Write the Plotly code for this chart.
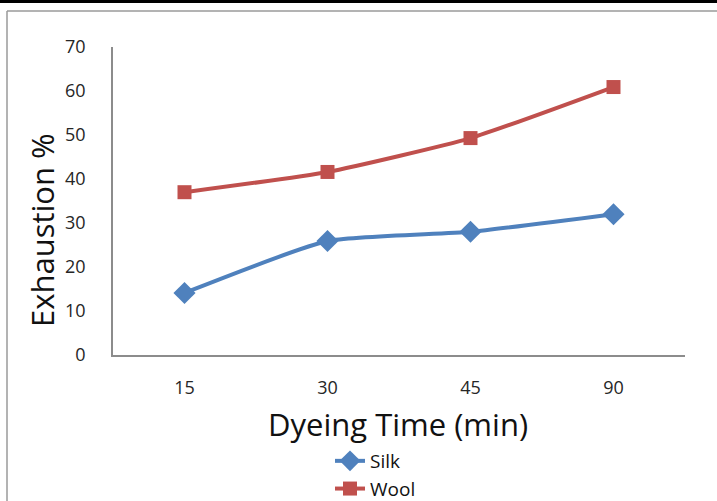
import plotly.graph_objects as go

categories = ["15", "30", "45", "90"]
silk = [14.1, 25.9, 28.0, 32.0]
wool = [37.0, 41.6, 49.3, 60.9]
y_ticks = [0, 10, 20, 30, 40, 50, 60, 70]

W, H = 717, 501
ML, MR, MT, MB = 113, 32, 47, 0
PW, PH = W - ML - MR, H - MT - MB
AXIS_BOTTOM = 355

def px2x(px):
    return (px - ML) / PW

def py2y(py):
    return (H - MB - py) / PH

FONT = "Open Sans"

fig = go.Figure()
fig.add_trace(go.Scatter(
    x=categories, y=silk, name="Silk", mode="lines+markers",
    line=dict(color="#4F81BD", width=4, shape="spline", smoothing=0.5),
    marker=dict(symbol="diamond", size=17, color="#4F81BD"),
))
fig.add_trace(go.Scatter(
    x=categories, y=wool, name="Wool", mode="lines+markers",
    line=dict(color="#C0504D", width=4, shape="spline", smoothing=0.5),
    marker=dict(symbol="square", size=14, color="#C0504D"),
))

fig.update_layout(
    width=W, height=H,
    margin=dict(l=ML, r=MR, t=MT, b=MB, autoexpand=False),
    paper_bgcolor="white", plot_bgcolor="white",
    font=dict(family=FONT, color="#262626"),
    showlegend=True,
    legend=dict(
        x=px2x(330), y=py2y(442), xanchor="left", yanchor="top",
        orientation="v", font=dict(size=19, family=FONT, color="#111"),
        bgcolor="rgba(0,0,0,0)", tracegroupgap=0,
    ),
    xaxis=dict(
        type="category", range=[-0.5, 3.5],
        showline=True, linecolor="#8c8c8c", linewidth=1.5,
        showgrid=False, zeroline=False, ticks="",
        tickfont=dict(size=18, family=FONT, color="#262626"),
        ticklabelstandoff=16,
    ),
    yaxis=dict(
        range=[0, 70], tickvals=y_ticks,
        domain=[py2y(AXIS_BOTTOM), 1],
        showline=True, linecolor="#8c8c8c", linewidth=1.5,
        showgrid=False, zeroline=False, ticks="",
        tickfont=dict(size=18, family=FONT, color="#262626"),
        ticklabelstandoff=22,
    ),
    annotations=[
        dict(text="Dyeing Time (min)", xref="paper", yref="paper",
             x=px2x(398), y=py2y(424), xanchor="center", yanchor="middle",
             showarrow=False, font=dict(size=31, family=FONT, color="#111")),
        dict(text="Exhaustion %", xref="paper", yref="paper",
             x=px2x(42), y=py2y(230), xanchor="center", yanchor="middle",
             textangle=-90,
             showarrow=False, font=dict(size=31, family=FONT, color="#111")),
    ],
    shapes=[
        dict(type="rect", xref="paper", yref="paper",
             x0=px2x(-5), x1=px2x(W + 5), y0=py2y(3), y1=py2y(-5),
             fillcolor="black", line=dict(width=0), layer="above"),
        dict(type="line", xref="paper", yref="paper",
             x0=px2x(7), x1=px2x(W + 5), y0=py2y(11), y1=py2y(11),
             line=dict(color="#9a9a9a", width=1.5)),
        dict(type="line", xref="paper", yref="paper",
             x0=px2x(7), x1=px2x(7), y0=py2y(11), y1=py2y(H + 5),
             line=dict(color="#9a9a9a", width=1.5)),
    ],
)

fig.write_html("out.html")
